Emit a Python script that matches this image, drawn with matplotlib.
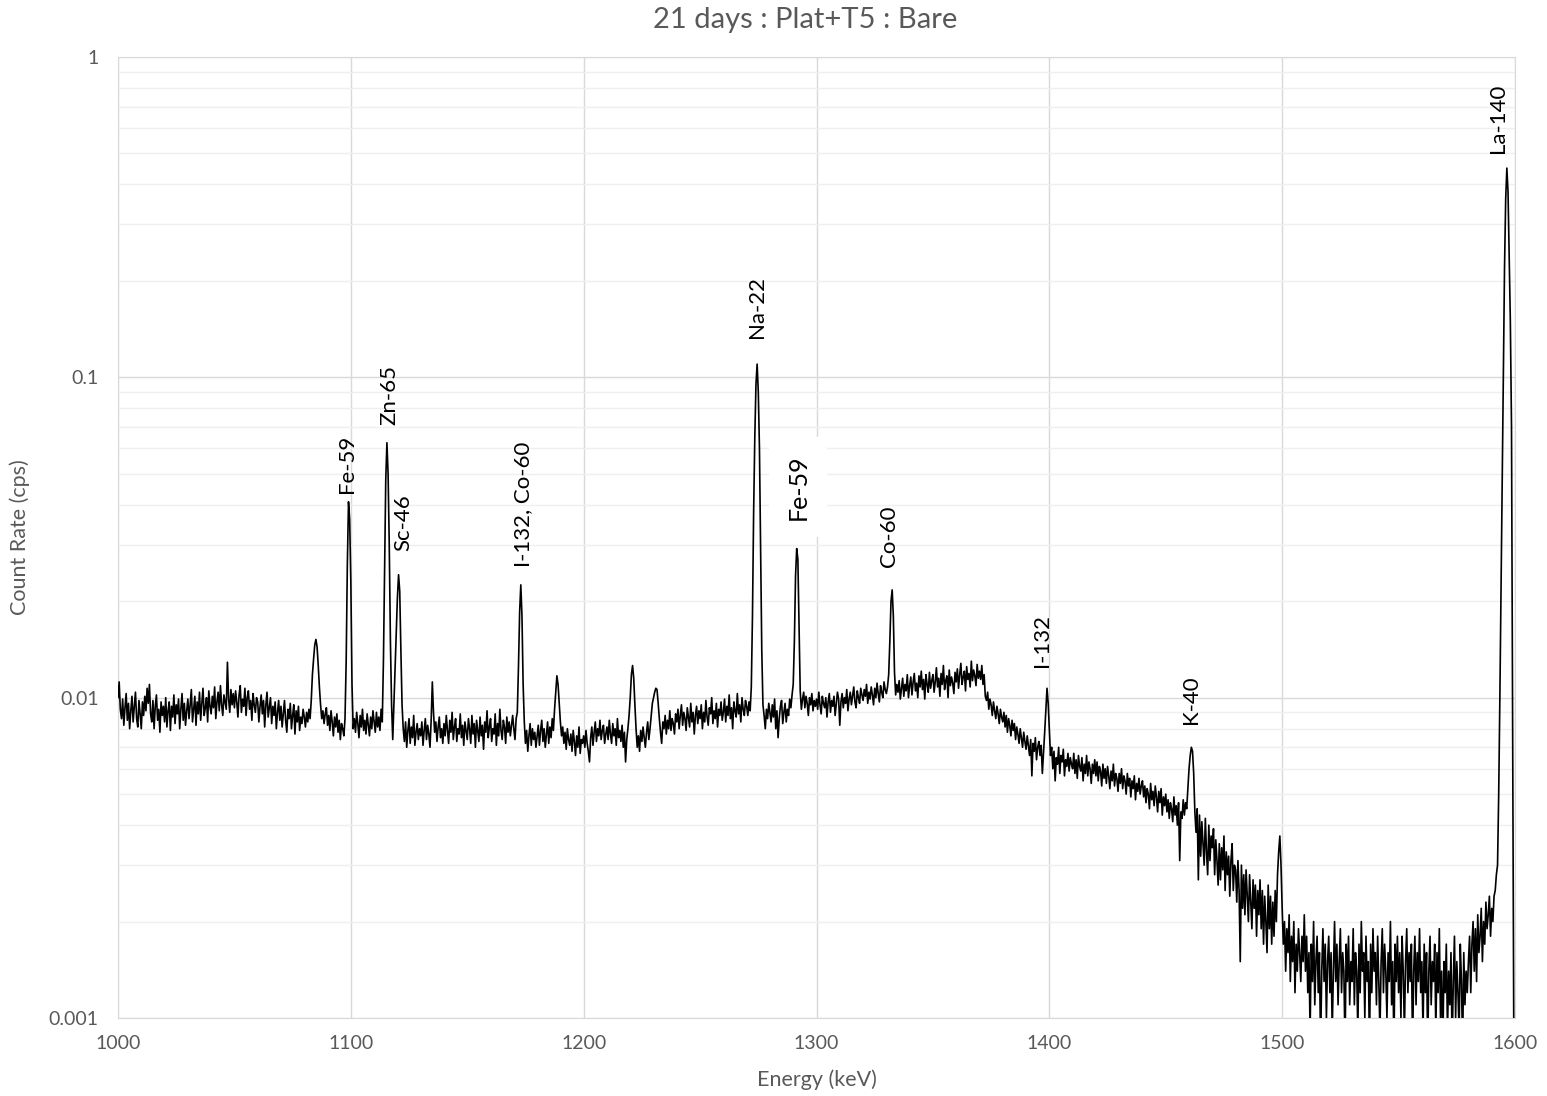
import numpy as np
import matplotlib
matplotlib.use("Agg")
from matplotlib import pyplot as plt
from matplotlib.ticker import FixedLocator, LogLocator, NullFormatter

plt.rcParams['font.family'] = ['Lato', 'DejaVu Sans']

title = "21 days : Plat+T5 : Bare"
x_label = "Energy (keV)"
y_label = "Count Rate (cps)"

# channel energies, 0.5 keV bins, 1000..1600 keV
energy_start = 1000
energy_step = 0.5

# count rate, in units of 1e-4 cps (one row = 10 keV)
rate_e4 = [
    100, 112, 92, 86, 99, 82, 93, 103, 85, 96, 80, 91, 101, 84, 94, 104, 86, 81, 98, 89,
    80, 97, 88, 101, 91, 107, 96, 110, 89, 84, 98, 80, 94, 102, 85, 92, 78, 97, 88, 94,
    84, 100, 81, 91, 97, 79, 94, 87, 102, 83, 95, 89, 99, 80, 92, 103, 85, 96, 82, 91,
    99, 86, 95, 106, 84, 92, 101, 82, 97, 89, 104, 85, 96, 107, 88, 93, 100, 84, 105, 94,
    89, 101, 93, 108, 86, 97, 104, 91, 109, 95, 88, 102, 97, 92, 129, 99, 90, 106, 95, 103,
    93, 105, 97, 87, 102, 109, 90, 99, 94, 107, 88, 100, 105, 92, 98, 85, 103, 95, 90, 100,
    97, 84, 94, 102, 89, 98, 81, 95, 104, 87, 93, 100, 83, 94, 88, 97, 80, 90, 98, 85,
    94, 81, 89, 98, 85, 78, 92, 86, 96, 80, 88, 95, 77, 91, 84, 94, 79, 87, 83, 92,
    87, 81, 90, 84, 92, 86, 98, 118, 132, 146, 152, 144, 126, 108, 95, 86, 91, 83, 89, 93,
    82, 88, 79, 91, 84, 76, 87, 81, 89, 78, 85, 74, 83, 80, 76, 86, 130, 260, 409, 360,
    230, 110, 80, 86, 78, 90, 83, 75, 88, 81, 92, 79, 85, 77, 89, 82, 76, 87, 80, 91,
    84, 78, 90, 81, 87, 79, 92, 84, 130, 250, 480, 625, 500, 300, 150, 95, 74, 96, 125, 160,
    205, 242, 215, 140, 95, 80, 73, 84, 70, 79, 86, 72, 81, 75, 88, 71, 78, 83, 74, 80,
    76, 84, 71, 79, 86, 74, 82, 77, 70, 85, 112, 90, 78, 84, 73, 81, 87, 75, 80, 72,
    83, 76, 88, 79, 72, 85, 78, 90, 74, 81, 86, 73, 80, 77, 89, 75, 82, 71, 84, 79,
    74, 86, 80, 72, 88, 77, 83, 70, 85, 79, 73, 87, 76, 82, 69, 84, 78, 91, 75, 81,
    86, 73, 80, 77, 89, 71, 83, 76, 92, 79, 74, 85, 81, 72, 87, 78, 84, 76, 82, 88,
    80, 74, 86, 90, 125, 185, 225, 180, 110, 84, 72, 79, 68, 76, 83, 71, 80, 74, 78, 70,
    76, 82, 71, 79, 85, 73, 80, 70, 77, 84, 72, 81, 75, 86, 79, 92, 104, 117, 110, 96,
    84, 76, 81, 72, 78, 69, 80, 74, 71, 77, 68, 79, 73, 66, 76, 70, 81, 67, 74, 72,
    76, 70, 79, 72, 68, 63, 75, 81, 71, 78, 84, 73, 80, 76, 85, 74, 79, 82, 72, 77,
    81, 74, 85, 77, 72, 83, 76, 80, 71, 86, 75, 79, 73, 82, 70, 78, 63, 74, 80, 88,
    100, 118, 126, 115, 95, 80, 70, 76, 68, 79, 73, 81, 75, 70, 78, 84, 74, 80, 88, 96,
    100, 104, 107, 106, 96, 86, 78, 72, 84, 80, 88, 77, 85, 80, 91, 79, 86, 83, 77, 89,
    84, 92, 80, 88, 95, 82, 90, 86, 79, 93, 87, 81, 96, 84, 90, 77, 88, 94, 83, 91,
    86, 95, 80, 90, 84, 98, 87, 82, 93, 89, 100, 83, 91, 86, 96, 81, 92, 88, 97, 85,
    90, 99, 84, 94, 88, 102, 86, 93, 80, 97, 91, 87, 103, 89, 95, 84, 100, 92, 88, 98,
    94, 88, 97, 91, 108, 180, 380, 650, 950, 1100, 900, 600, 280, 140, 95, 88, 80, 92, 86, 96,
    90, 84, 95, 87, 99, 80, 91, 75, 86, 94, 98, 83, 90, 96, 84, 92, 88, 99, 93, 102,
    110, 150, 240, 292, 270, 170, 105, 92, 99, 104, 93, 101, 96, 88, 100, 95, 103, 91, 98, 94,
    99, 92, 104, 95, 89, 101, 96, 93, 100, 87, 97, 103, 90, 98, 94, 101, 88, 96, 104, 99,
    82, 97, 103, 93, 100, 96, 106, 91, 99, 104, 95, 101, 108, 97, 93, 105, 100, 96, 107, 102,
    98, 106, 101, 110, 96, 104, 99, 108, 102, 95, 107, 100, 111, 103, 97, 109, 104, 100, 112, 106,
    103, 108, 118, 150, 200, 217, 180, 120, 102, 110, 104, 113, 99, 107, 115, 101, 110, 105, 118, 100,
    109, 116, 102, 112, 119, 105, 111, 100, 117, 108, 121, 106, 114, 99, 118, 110, 104, 120, 107, 113,
    118, 104, 112, 124, 108, 115, 101, 119, 110, 126, 106, 113, 117, 100, 122, 109, 116, 111, 103, 120,
    112, 123, 107, 118, 128, 110, 116, 121, 105, 125, 114, 119, 108, 130, 113, 122, 117, 109, 127, 115,
    121, 114, 126, 110, 118, 101, 98, 104, 92, 99, 95, 88, 97, 91, 86, 94, 89, 83, 92, 87,
    84, 90, 81, 88, 78, 86, 82, 76, 85, 79, 83, 74, 81, 77, 72, 80, 75, 70, 78, 73,
    69, 76, 71, 66, 74, 57, 72, 68, 75, 64, 70, 73, 66, 71, 58, 67, 78, 92, 107, 96,
    80, 66, 70, 60, 68, 55, 65, 62, 70, 58, 66, 63, 69, 57, 64, 61, 67, 59, 65, 62,
    60, 67, 58, 64, 56, 66, 61, 59, 65, 55, 62, 58, 66, 57, 63, 60, 54, 62, 58, 64,
    57, 63, 55, 61, 59, 53, 62, 56, 60, 54, 61, 57, 52, 59, 55, 62, 53, 58, 56, 51,
    58, 54, 60, 52, 57, 55, 50, 58, 53, 56, 49, 55, 52, 57, 48, 54, 51, 56, 50, 53,
    55, 49, 53, 47, 52, 50, 45, 54, 48, 51, 46, 53, 49, 44, 51, 47, 52, 43, 49, 46,
    50, 44, 48, 42, 47, 45, 41, 49, 43, 46, 40, 47, 31, 44, 42, 48, 43, 47, 45, 52,
    60, 66, 70, 68, 58, 44, 38, 45, 27, 43, 32, 41, 35, 30, 42, 33, 28, 40, 31, 37,
    34, 39, 28, 36, 31, 26, 35, 27, 34, 29, 37, 25, 33, 28, 32, 24, 31, 35, 25, 30,
    29, 23, 31, 25, 15, 30, 22, 28, 21, 29, 24, 20, 28, 23, 19, 27, 22, 26, 18, 25,
    21, 27, 19, 25, 17, 24, 20, 16, 26, 19, 24, 17, 23, 18, 25, 20, 28, 33, 37, 30,
    22, 17, 20, 14, 19, 16, 21, 13, 18, 15, 20, 12, 17, 14, 19, 16, 13, 18, 15, 21,
    14, 18, 12, 16, 9, 17, 13, 20, 11, 15, 18, 12, 16, 8, 14, 19, 13, 17, 10, 15,
    18, 12, 16, 9, 14, 20, 13, 17, 11, 15, 19, 12, 16, 14, 8, 17, 13, 18, 11, 15,
    13, 19, 11, 16, 14, 9, 17, 12, 20, 14, 16, 10, 18, 13, 15, 8, 17, 12, 19, 14,
    16, 11, 18, 13, 9, 15, 19, 12, 17, 14, 10, 16, 13, 20, 11, 15, 8, 17, 13, 18,
    12, 16, 10, 18, 14, 9, 15, 19, 12, 16, 13, 17, 8, 14, 18, 11, 16, 13, 19, 12,
    15, 9, 17, 12, 16, 8, 14, 18, 11, 15, 13, 17, 9, 16, 12, 19, 10, 14, 8, 15,
    12, 17, 9, 14, 11, 16, 8, 13, 18, 10, 15, 12, 9, 17, 13, 8, 16, 11, 14, 12,
    15, 18, 12, 17, 20, 14, 19, 13, 21, 16, 18, 22, 15, 20, 17, 23, 19, 21, 24, 18,
    22, 20, 24, 25, 28, 30, 50, 100, 220, 500, 1130, 2200, 3600, 4500, 3800, 2400, 1500, 700, 80, 8,
    8,
]

# peak labels: name, energy (keV), rate where the label starts
peak_names = ["Fe-59", "Zn-65", "Sc-46", "I-132, Co-60", "Na-22",
              "Co-60", "I-132", "K-40", "La-140"]
peak_energy = [1098.4, 1116.4, 1122.4, 1174.0, 1274.5,
               1331.2, 1396.9, 1460.9, 1592.8]
peak_label_rate = [0.0436, 0.0711, 0.0288, 0.0255, 0.133,
                   0.0256, 0.0125, 0.0083, 0.502]
boxed_name = "Fe-59"
boxed_energy = 1292.1
boxed_rate = 0.0359

x_ticks = [1000, 1100, 1200, 1300, 1400, 1500, 1600]
y_ticks = [0.001, 0.01, 0.1, 1]
y_tick_labels = ["0.001", "0.01", "0.1", "1"]

energy = energy_start + energy_step * np.arange(len(rate_e4))
rate = np.array(rate_e4) * 1e-4
assert len(rate) == 1201, len(rate)

grey_text = "#595959"
fig = plt.figure(figsize=(15.47, 10.96), dpi=100)
ax = fig.add_axes([118 / 1547, 1 - 1018 / 1096, (1515 - 118) / 1547, (1018 - 57) / 1096])

ax.plot(energy, rate, color="black", lw=1.2, zorder=3)
ax.set_yscale("log")
ax.set_xlim(1000, 1600)
ax.set_ylim(0.001, 1)

ax.xaxis.set_major_locator(FixedLocator(x_ticks))
ax.yaxis.set_major_locator(FixedLocator(y_ticks))
ax.set_yticklabels(y_tick_labels)
ax.yaxis.set_minor_locator(LogLocator(base=10, subs=np.arange(2, 10)))
ax.yaxis.set_minor_formatter(NullFormatter())
ax.grid(True, which="major", color="#d9d9d9", lw=1.0)
ax.grid(True, which="minor", axis="y", color="#efefef", lw=1.0)
ax.set_axisbelow(True)
ax.tick_params(which="both", length=0, labelsize=14, colors=grey_text)
ax.tick_params(axis="y", pad=14)
ax.tick_params(axis="x", pad=12)
for s in ax.spines.values():
    s.set_color("#d9d9d9")

for name, e, r in zip(peak_names, peak_energy, peak_label_rate):
    ax.text(e, r, name, rotation=90, ha="center", va="bottom", fontsize=16, color="black", zorder=4)
ax.text(boxed_energy, boxed_rate, boxed_name, rotation=90, ha="center", va="bottom",
        fontsize=18, color="black", zorder=4,
        bbox=dict(boxstyle="square,pad=0.7", fc="white", ec="none"))

fig.text(805.5 / 1547, 1 - 20 / 1096, title, ha="center", va="center", fontsize=21, color=grey_text)
fig.text(817 / 1547, 1 - 1080 / 1096, x_label, ha="center", va="center", fontsize=15.5, color=grey_text)
fig.text(20 / 1547, 1 - 537 / 1096, y_label, ha="center", va="center", rotation=90, fontsize=15.5, color=grey_text)

fig.savefig("out.png", dpi=100)
